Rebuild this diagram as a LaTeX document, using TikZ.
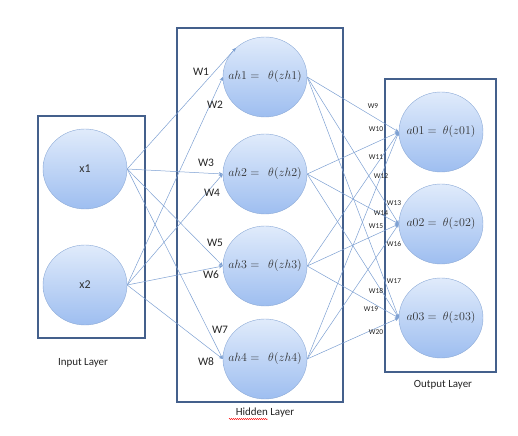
\documentclass[tikz,border=0pt]{standalone}
\usepackage{fontspec}
\setmainfont{Carlito}
\usetikzlibrary{arrows.meta,shapes.geometric,decorations.pathmorphing}
\definecolor{nnbox}{RGB}{68,96,140}
\definecolor{nnedge}{RGB}{125,160,210}
\definecolor{nntop}{RGB}{224,235,251}
\definecolor{nnbot}{RGB}{158,190,240}
\definecolor{nnrim}{RGB}{140,170,215}
\definecolor{nntext}{RGB}{35,35,35}
\definecolor{nnmath}{RGB}{50,50,50}
\newcommand{\utxt}[1]{\makebox[0pt]{#1}}

\begin{document}
\begin{tikzpicture}[x=1bp,y=-1bp,
  unit/.style={ellipse,draw=nnrim,top color=nntop,bottom color=nnbot,minimum width=84bp,minimum height=80bp,inner sep=0pt,font=\fontsize{12}{14}\selectfont,text=nnmath},
  layer/.style={draw=nnbox,line width=1.3bp},
  wire/.style={draw=nnedge,line width=0.5bp,-{Stealth[length=4bp,width=3.5bp]}},
  wt/.style={font=\fontsize{11.5}{13}\selectfont,text=nntext},
  wts/.style={font=\fontsize{7.5}{9}\selectfont,text=nntext},
  laylbl/.style={font=\fontsize{11}{13}\selectfont,text=nntext}]
\useasboundingbox (0,0) rectangle (518,436);
% layer boxes
\draw[layer] (38,116) rectangle (145,338);
\draw[layer] (177,28) rectangle (343,402);
\draw[layer] (385,79) rectangle (496,372);
% units
\node[unit] (x1) at (85,169) {\utxt{x1}};
\node[unit] (x2) at (85,285) {\utxt{x2}};
\node[unit] (h1) at (265,77) {\utxt{$ah1 =\ \ \theta(zh1)$}};
\node[unit] (h2) at (265,174) {\utxt{$ah2 =\ \ \theta(zh2)$}};
\node[unit] (h3) at (265,266) {\utxt{$ah3 =\ \ \theta(zh3)$}};
\node[unit] (h4) at (265,359) {\utxt{$ah4 =\ \ \theta(zh4)$}};
\node[unit] (o1) at (441,132) {\utxt{$a01 =\ \theta(z01)$}};
\node[unit] (o2) at (441,224) {\utxt{$a02 =\ \theta(z02)$}};
\node[unit] (o3) at (441,318) {\utxt{$a03 =\ \theta(z03)$}};
% captions
\node[laylbl] (inlbl) at (83,363) {Input Layer};
\node[laylbl] (hidlbl) at (265,413) {Hidden Layer};
\node[laylbl] (outlbl) at (443,385) {Output Layer};
\draw[red,line width=0.4bp,decorate,decoration={snake,segment length=2bp,amplitude=0.6bp}] (229,419) -- (268,419);
% input -> hidden
\draw[wire] (x1.east) -- (h1.135);
\draw[wire] (x2.east) -- (h1.west);
\foreach \h in {h2,h3,h4}{
  \draw[wire] (x1.east) -- (\h.west);
  \draw[wire] (x2.east) -- (\h.west);
}
% hidden -> output
\foreach \h in {h1,h2,h3,h4}
  \foreach \o in {o1,o2,o3}
    \draw[wire] (\h.east) -- (\o.west);
% weights
\node[wt] (w1) at (201,72) {W1};
\node[wt] (w2) at (215,105) {W2};
\node[wt] (w3) at (206,163) {W3};
\node[wt] (w4) at (212,193) {W4};
\node[wt] (w5) at (215,243) {W5};
\node[wt] (w6) at (211,275) {W6};
\node[wt] (w7) at (220,330) {W7};
\node[wt] (w8) at (206,362) {W8};
\node[wts] (w9) at (373,106) {W9};
\node[wts] (w10) at (376,129) {W10};
\node[wts] (w11) at (376,157) {W11};
\node[wts] (w12) at (381,176) {W12};
\node[wts] (w13) at (394,203) {W13};
\node[wts] (w14) at (381,213) {W14};
\node[wts] (w15) at (376,226) {W15};
\node[wts] (w16) at (394,244) {W16};
\node[wts] (w17) at (394,281) {W17};
\node[wts] (w18) at (376,291) {W18};
\node[wts] (w19) at (371,309) {W19};
\node[wts] (w20) at (376,332) {W20};
\end{tikzpicture}
\end{document}
